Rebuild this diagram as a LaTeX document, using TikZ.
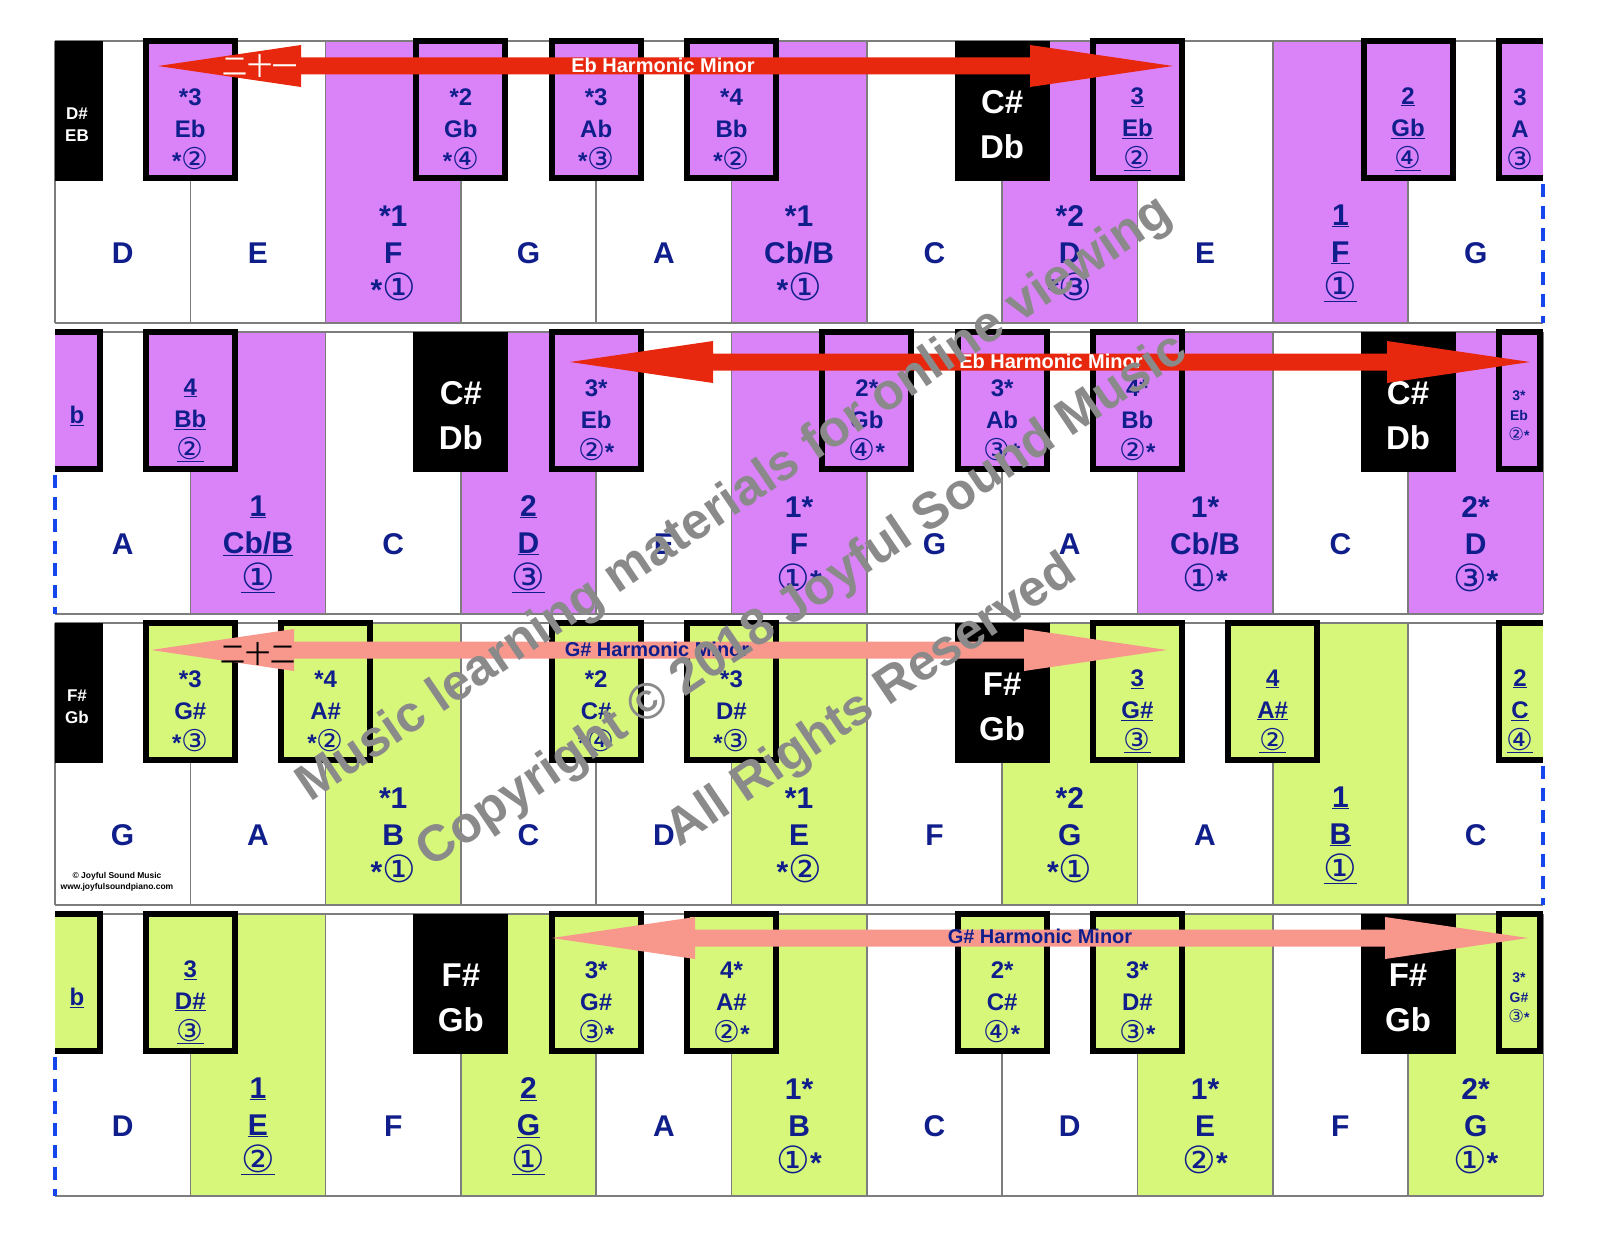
\documentclass[tikz,border=0pt]{standalone}
\usepackage{fontspec}
\setmainfont{Liberation Sans}
\newfontfamily\circfont[Scale=1.25]{DejaVu Sans}
\newfontfamily\cjk{Noto Sans CJK SC}
\usetikzlibrary{calc}

\definecolor{notenavy}{RGB}{16,30,140}
\definecolor{ebpurple}{RGB}{218,131,249}
\definecolor{gslime}{RGB}{215,247,123}
\definecolor{ebred}{RGB}{232,40,14}
\definecolor{gssalmon}{RGB}{248,151,140}
\definecolor{linegray}{RGB}{125,125,125}
\definecolor{dashblue}{RGB}{20,70,235}
\definecolor{markgray}{RGB}{138,138,138}

\newcommand{\cn}[1]{{\circfont\mdseries #1}}
\newcommand{\wkeyx}{55}
\newcommand{\wkeyw}{135.3}
% two-headed scale arrow between two named tips
\newcommand{\harmbar}[3]{%
  \fill[#3] (#1) -- ($(#1)+(143,-21)$) -- ($(#1)+(143,-8.5)$) -- ($(#2)+(-143,-8.5)$)
    -- ($(#2)+(-143,-21)$) -- (#2) -- ($(#2)+(-143,21)$) -- ($(#2)+(-143,8.5)$)
    -- ($(#1)+(143,8.5)$) -- ($(#1)+(143,21)$) -- cycle;}

\begin{document}
\begin{tikzpicture}[x=1pt, y=-1pt,
    keyline/.style={draw=linegray, line width=1.6pt},
    edgedash/.style={draw=dashblue, line width=4pt, dash pattern=on 13pt off 9pt},
    hlkey/.style={draw=black, line width=6pt},
    wtext/.style={text=notenavy, align=center, inner sep=0pt, font=\bfseries\fontsize{30}{37}\selectfont},
    btext/.style={text=notenavy, align=center, inner sep=0pt, font=\bfseries\fontsize{24}{32}\selectfont},
    stext/.style={text=notenavy, align=center, inner sep=0pt, font=\bfseries\fontsize{14}{20}\selectfont},
    sharplbl/.style={text=white, align=center, inner sep=0pt, font=\bfseries\fontsize{33}{45}\selectfont},
    sharpsmall/.style={text=white, align=center, inner sep=0pt, font=\bfseries\fontsize{17}{22}\selectfont},
    arrowtext/.style={inner sep=0pt, font=\bfseries\fontsize{20}{20}\selectfont},
    counttext/.style={inner sep=0pt, font=\cjk\fontsize{25}{25}\selectfont},
    watermark/.style={text=markgray, rotate=34, inner sep=0pt, font=\bfseries\fontsize{51}{51}\selectfont}
]
\useasboundingbox (0,0) rectangle (1600,1236);
\fill[white] (0,0) rectangle (1600,1236);

% row 1: Eb harmonic minor
\def\rowtop{41}
\foreach \i in {2,5,7,9}
    \fill[ebpurple] ({\wkeyx+\wkeyw*\i},\rowtop) rectangle ++(\wkeyw,282);
\foreach \j in {0,...,10}
    \draw[keyline] ({\wkeyx+\wkeyw*\j},\rowtop) -- ++(0,282);
\draw[keyline] (\wkeyx,\rowtop) -- (1543,\rowtop) (\wkeyx,\rowtop+282) -- (1543,\rowtop+282);
\draw[edgedash] (1543,\rowtop+143) -- ++(0,139);
\foreach \j in {1,3,4,5,8,10}
    \filldraw[hlkey, fill=ebpurple] ({\wkeyx+\wkeyw*\j-44.5},\rowtop) rectangle ++(89,137);
\fill ({\wkeyx+\wkeyw*7-47.5},\rowtop) rectangle ++(95,140);
\fill (\wkeyx,\rowtop) rectangle ++(47.5,140);
\fill[ebpurple] (1498.5,\rowtop) rectangle (1543,\rowtop+137);
\draw[hlkey] (1543,\rowtop) -| (1498.5,\rowtop+137) -- (1543,\rowtop+137);
\foreach \i/\txt in {0/D, 1/E, 2/{*1\\F\\*\cn{①}}, 3/G, 4/A, 5/{*1\\Cb/B\\*\cn{①}}, 6/C,
        7/{*2\\D\\*\cn{③}}, 8/E, 9/{\underline{1}\\\underline{F}\\\underline{\cn{①}}}, 10/G}
    \node[wtext] (r1w\i) at ({\wkeyx+\wkeyw*(\i+0.5)},\rowtop+212) {\txt};
\foreach \j/\txt in {1/{*3\\Eb\\*\cn{②}}, 3/{*2\\Gb\\*\cn{④}}, 4/{*3\\Ab\\*\cn{③}}, 5/{*4\\Bb\\*\cn{②}},
        8/{\underline{3}\\\underline{Eb}\\\underline{\cn{②}}}, 10/{\underline{2}\\\underline{Gb}\\\underline{\cn{④}}}}
    \node[btext] (r1b\j) at ({\wkeyx+\wkeyw*\j},\rowtop+88) {\txt};
\node[sharplbl] (r1b7) at ({\wkeyx+\wkeyw*7},\rowtop+84) {C\#\\Db};
\node[sharpsmall] (r1b0) at (77,\rowtop+84) {D\#\\EB};
\node[btext] (r1b11) at (1520,\rowtop+88) {3\\A\\\cn{③}};
\coordinate (eb1 left) at (158,66);
\coordinate (eb1 right) at (1173,66);
\harmbar{eb1 left}{eb1 right}{ebred}
\node[arrowtext, text=white] (eb1 name) at (663,65) {Eb Harmonic Minor};
\node[counttext, text=white] (eb1 count) at (260,66) {二十一};

% row 2: Eb harmonic minor, second octave
\def\rowtop{332}
\foreach \i in {1,3,5,8,10}
    \fill[ebpurple] ({\wkeyx+\wkeyw*\i},\rowtop) rectangle ++(\wkeyw,282);
\foreach \j in {1,...,11}
    \draw[keyline] ({\wkeyx+\wkeyw*\j},\rowtop) -- ++(0,282);
\draw[keyline] (\wkeyx,\rowtop) -- (1543,\rowtop) (\wkeyx,\rowtop+282) -- (1543,\rowtop+282);
\draw[edgedash] (\wkeyx,\rowtop+143) -- ++(0,139);
\foreach \j in {1,4,6,7,8}
    \filldraw[hlkey, fill=ebpurple] ({\wkeyx+\wkeyw*\j-44.5},\rowtop) rectangle ++(89,137);
\foreach \j in {3,10}
    \fill ({\wkeyx+\wkeyw*\j-47.5},\rowtop) rectangle ++(95,140);
\fill[ebpurple] (\wkeyx,\rowtop) rectangle (99.5,\rowtop+137);
\draw[hlkey] (\wkeyx,\rowtop) -| (99.5,\rowtop+137) -- (\wkeyx,\rowtop+137);
\filldraw[hlkey, fill=ebpurple] (1498.5,\rowtop) rectangle (1540,\rowtop+137);
\foreach \i/\txt in {0/A, 1/{\underline{1}\\\underline{Cb/B}\\\underline{\cn{①}}}, 2/C,
        3/{\underline{2}\\\underline{D}\\\underline{\cn{③}}}, 4/E, 5/{1*\\F\\\cn{①}*}, 6/G, 7/A,
        8/{1*\\Cb/B\\\cn{①}*}, 9/C, 10/{2*\\D\\\cn{③}*}}
    \node[wtext] (r2w\i) at ({\wkeyx+\wkeyw*(\i+0.5)},\rowtop+212) {\txt};
\foreach \j/\txt in {1/{\underline{4}\\\underline{Bb}\\\underline{\cn{②}}}, 4/{3*\\Eb\\\cn{②}*},
        6/{2*\\Gb\\\cn{④}*}, 7/{3*\\Ab\\\cn{③}*}, 8/{4*\\Bb\\\cn{②}*}}
    \node[btext] (r2b\j) at ({\wkeyx+\wkeyw*\j},\rowtop+88) {\txt};
\foreach \j in {3,10}
    \node[sharplbl] (r2b\j) at ({\wkeyx+\wkeyw*\j},\rowtop+84) {C\#\\Db};
\node[btext] (r2b0) at (77,\rowtop+84) {\underline{b}};
\node[stext] (r2b11) at (1519,\rowtop+84) {3*\\Eb\\\cn{②}*};
\coordinate (eb2 left) at (570,362);
\coordinate (eb2 right) at (1530,362);
\harmbar{eb2 left}{eb2 right}{ebred}
\node[arrowtext, text=white] (eb2 name) at (1051,361) {Eb Harmonic Minor};

% row 3: G# harmonic minor
\def\rowtop{623}
\foreach \i in {2,5,7,9}
    \fill[gslime] ({\wkeyx+\wkeyw*\i},\rowtop) rectangle ++(\wkeyw,282);
\foreach \j in {0,...,10}
    \draw[keyline] ({\wkeyx+\wkeyw*\j},\rowtop) -- ++(0,282);
\draw[keyline] (\wkeyx,\rowtop) -- (1543,\rowtop) (\wkeyx,\rowtop+282) -- (1543,\rowtop+282);
\draw[edgedash] (1543,\rowtop+143) -- ++(0,139);
\foreach \j in {1,2,4,5,8,9}
    \filldraw[hlkey, fill=gslime] ({\wkeyx+\wkeyw*\j-44.5},\rowtop) rectangle ++(89,137);
\fill ({\wkeyx+\wkeyw*7-47.5},\rowtop) rectangle ++(95,140);
\fill (\wkeyx,\rowtop) rectangle ++(47.5,140);
\fill[gslime] (1498.5,\rowtop) rectangle (1543,\rowtop+137);
\draw[hlkey] (1543,\rowtop) -| (1498.5,\rowtop+137) -- (1543,\rowtop+137);
\foreach \i/\txt in {0/G, 1/A, 2/{*1\\B\\*\cn{①}}, 3/C, 4/D, 5/{*1\\E\\*\cn{②}}, 6/F,
        7/{*2\\G\\*\cn{①}}, 8/A, 9/{\underline{1}\\\underline{B}\\\underline{\cn{①}}}, 10/C}
    \node[wtext] (r3w\i) at ({\wkeyx+\wkeyw*(\i+0.5)},\rowtop+212) {\txt};
\foreach \j/\txt in {1/{*3\\G\#\\*\cn{③}}, 2/{*4\\A\#\\*\cn{②}}, 4/{*2\\C\#\\*\cn{④}}, 5/{*3\\D\#\\*\cn{③}},
        8/{\underline{3}\\\underline{G\#}\\\underline{\cn{③}}}, 9/{\underline{4}\\\underline{A\#}\\\underline{\cn{②}}}}
    \node[btext] (r3b\j) at ({\wkeyx+\wkeyw*\j},\rowtop+88) {\txt};
\node[sharplbl] (r3b7) at ({\wkeyx+\wkeyw*7},\rowtop+84) {F\#\\Gb};
\node[sharpsmall] (r3b0) at (77,\rowtop+84) {F\#\\Gb};
\node[btext] (r3b11) at (1520,\rowtop+88) {\underline{2}\\\underline{C}\\\underline{\cn{④}}};
\node[inner sep=0pt, align=center, font=\bfseries\fontsize{8.5}{11}\selectfont] (credit) at (117,\rowtop+259)
    {© Joyful Sound Music\\www.joyfulsoundpiano.com};
\coordinate (gs1 left) at (151,650);
\coordinate (gs1 right) at (1167,650);
\harmbar{gs1 left}{gs1 right}{gssalmon}
\node[arrowtext, text=notenavy] (gs1 name) at (657,649) {G\# Harmonic Minor};
\node[counttext, text=black] (gs1 count) at (258,654) {二十二};

% row 4: G# harmonic minor, second octave
\def\rowtop{914}
\foreach \i in {1,3,5,8,10}
    \fill[gslime] ({\wkeyx+\wkeyw*\i},\rowtop) rectangle ++(\wkeyw,282);
\foreach \j in {1,...,11}
    \draw[keyline] ({\wkeyx+\wkeyw*\j},\rowtop) -- ++(0,282);
\draw[keyline] (\wkeyx,\rowtop) -- (1543,\rowtop) (\wkeyx,\rowtop+282) -- (1543,\rowtop+282);
\draw[edgedash] (\wkeyx,\rowtop+143) -- ++(0,139);
\foreach \j in {1,4,5,7,8}
    \filldraw[hlkey, fill=gslime] ({\wkeyx+\wkeyw*\j-44.5},\rowtop) rectangle ++(89,137);
\foreach \j in {3,10}
    \fill ({\wkeyx+\wkeyw*\j-47.5},\rowtop) rectangle ++(95,140);
\fill[gslime] (\wkeyx,\rowtop) rectangle (99.5,\rowtop+137);
\draw[hlkey] (\wkeyx,\rowtop) -| (99.5,\rowtop+137) -- (\wkeyx,\rowtop+137);
\filldraw[hlkey, fill=gslime] (1498.5,\rowtop) rectangle (1540,\rowtop+137);
\foreach \i/\txt in {0/D, 1/{\underline{1}\\\underline{E}\\\underline{\cn{②}}}, 2/F,
        3/{\underline{2}\\\underline{G}\\\underline{\cn{①}}}, 4/A, 5/{1*\\B\\\cn{①}*}, 6/C, 7/D,
        8/{1*\\E\\\cn{②}*}, 9/F, 10/{2*\\G\\\cn{①}*}}
    \node[wtext] (r4w\i) at ({\wkeyx+\wkeyw*(\i+0.5)},\rowtop+212) {\txt};
\foreach \j/\txt in {1/{\underline{3}\\\underline{D\#}\\\underline{\cn{③}}}, 4/{3*\\G\#\\\cn{③}*},
        5/{4*\\A\#\\\cn{②}*}, 7/{2*\\C\#\\\cn{④}*}, 8/{3*\\D\#\\\cn{③}*}}
    \node[btext] (r4b\j) at ({\wkeyx+\wkeyw*\j},\rowtop+88) {\txt};
\foreach \j in {3,10}
    \node[sharplbl] (r4b\j) at ({\wkeyx+\wkeyw*\j},\rowtop+84) {F\#\\Gb};
\node[btext] (r4b0) at (77,\rowtop+84) {\underline{b}};
\node[stext] (r4b11) at (1519,\rowtop+84) {3*\\G\#\\\cn{③}*};
\coordinate (gs2 left) at (552,938);
\coordinate (gs2 right) at (1528,938);
\harmbar{gs2 left}{gs2 right}{gssalmon}
\node[arrowtext, text=notenavy] (gs2 name) at (1040,936) {G\# Harmonic Minor};

% watermark
\node[watermark] (mark1) at (735,500) {Music learning materials for online viewing};
\node[watermark] (mark2) at (803,602) {Copyright © 2018 Joyful Sound Music};
\node[watermark] (mark3) at (872,702) {All Rights Reserved};
\end{tikzpicture}
\end{document}
